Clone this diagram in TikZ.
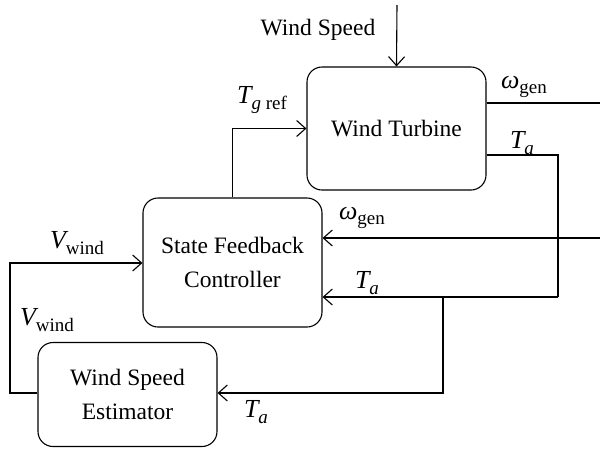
\documentclass[tikz,border=0pt]{standalone}
\usepackage{fontspec}
\setmainfont{Liberation Serif}
\usetikzlibrary{arrows.meta}
\newcommand\mysub[1]{\raisebox{-5.5pt}{\fontsize{19}{20}\selectfont #1}}
\newcommand\mvar[1]{{\itshape #1}}
\begin{document}
\begin{tikzpicture}[x=1pt,y=-1pt,
  blockbox/.style={draw,line width=1.1pt,rounded corners=15pt,minimum width=179pt,align=center,
    font=\fontsize{23.5}{34}\selectfont,inner sep=0pt},
  conn/.style={line width=1.1pt},
  arr/.style={conn,-{Straight Barb[length=9pt,width=16pt,line width=1.1pt]}},
  lbl/.style={font=\fontsize{26}{30}\selectfont,inner sep=0pt}]
\useasboundingbox (0,0) rectangle (600,448);
\node[blockbox,minimum height=123pt] (turb) at (396.5,128.5) {Wind Turbine};
\node[blockbox,minimum height=129pt] (ctrl) at (232.5,262.5) {State Feedback\\Controller};
\node[blockbox,minimum height=104pt] (est) at (127.5,394.5) {Wind Speed\\Estimator};
% coordinates
\coordinate (wsin) at (397,5);
\coordinate (omout) at (600,103);
\coordinate (tacorner) at (558,155);
\coordinate (taret) at (558,297);
\coordinate (tajun) at (443,297);
\coordinate (tadown) at (443,393);
\coordinate (omin) at (600,238);
\coordinate (vw1) at (10,393);
\coordinate (vw2) at (10,263);
% connectors
\draw[arr] (wsin) -- (turb.north);
\draw[conn] (turb.east |- omout) -- (omout);
\draw[conn] (turb.east |- tacorner) -- (tacorner) -- (taret);
\draw[arr] (taret) -- (ctrl.east |- taret);
\draw[arr] (tajun) -- (tadown) -- (est.east |- tadown);
\draw[arr] (omin) -- (ctrl.east |- omin);
\draw[arr] (ctrl.north) |- (turb.west);
\draw[arr] (est.west |- vw1) -- (vw1) -- (vw2) -- (ctrl.west |- vw2);
% labels
\node[font=\fontsize{23.5}{28}\selectfont,inner sep=0pt] (lws) at (318,30) {Wind Speed};
\node[lbl] (lom1) at (524,87) {\mvar{ω}\mysub{gen}};
\node[lbl] (lta1) at (522,143) {\mvar{T}\mysub{\mvar{a}}};
\node[lbl] (ltg) at (262,100) {\mvar{T}\mysub{\mvar{g} ref}};
\node[lbl] (lom2) at (362,218) {\mvar{ω}\mysub{gen}};
\node[lbl] (lta2) at (367,283) {\mvar{T}\mysub{\mvar{a}}};
\node[lbl] (lvw1) at (77,243) {\mvar{V}\mysub{wind}};
\node[lbl] (lvw2) at (47,320) {\mvar{V}\mysub{wind}};
\node[lbl] (lta3) at (256,412) {\mvar{T}\mysub{\mvar{a}}};
\end{tikzpicture}
\end{document}
